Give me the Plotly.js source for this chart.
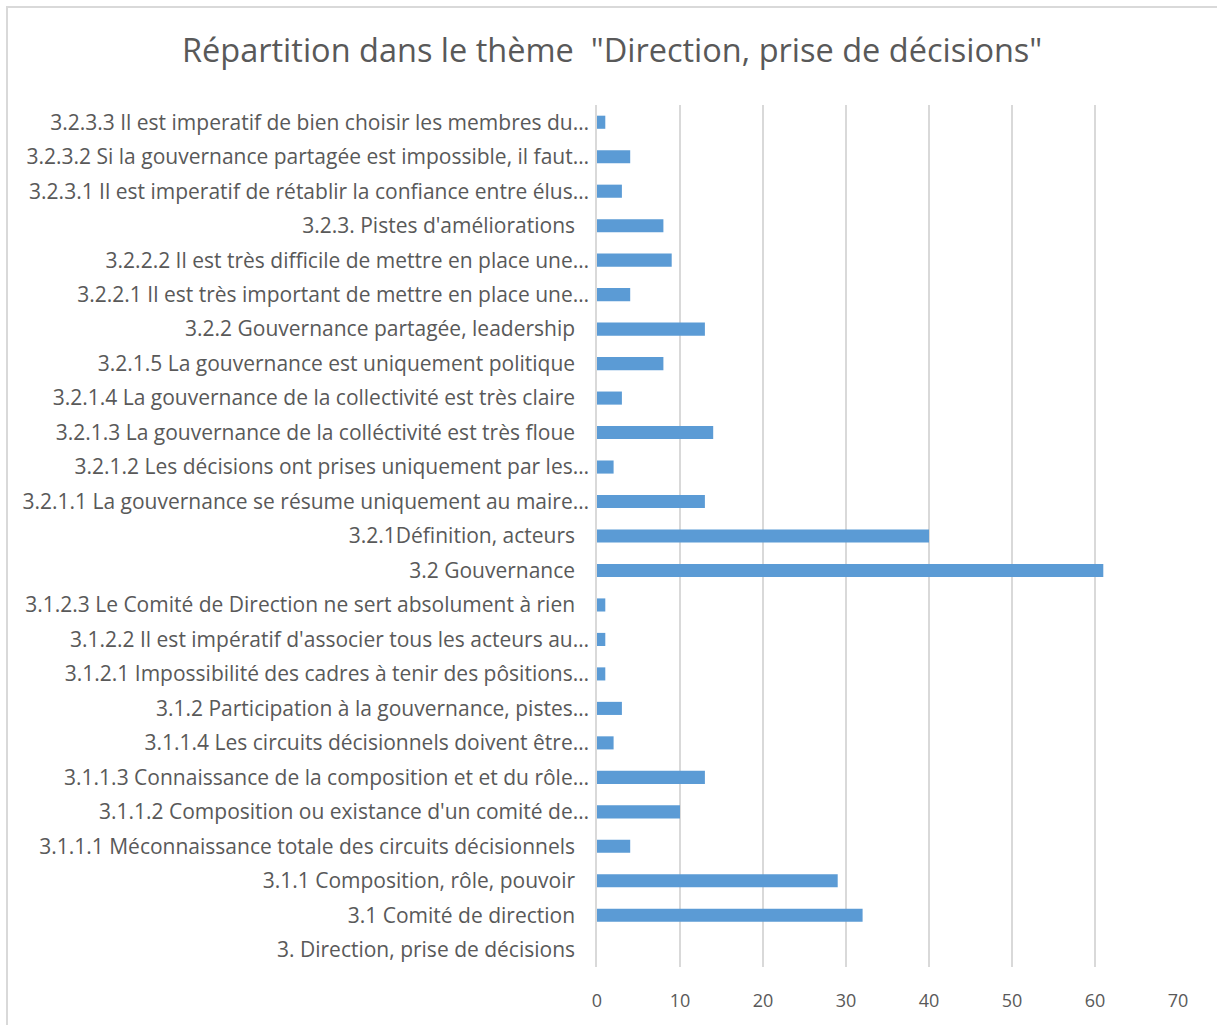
<!DOCTYPE html>
<html>
<head>
<meta charset="utf-8">
<script src="https://cdn.plot.ly/plotly-3.0.1.min.js"></script>
<style>
  html, body { margin: 0; padding: 0; overflow: hidden; background: #fff; }
  #frame { position: absolute; left: 6px; top: 6px; width: 1300px; height: 1100px; border: 2px solid #d9d9d9; box-sizing: border-box; }
  #chart { position: absolute; left: 0; top: 0; width: 1217px; height: 1025px; }
</style>
</head>
<body>
<div id="frame"></div>
<div id="chart"></div>
<script>
// Categories listed bottom to top
const categories = [
  "3. Direction, prise de décisions",
  "3.1 Comité de direction",
  "3.1.1 Composition, rôle, pouvoir",
  "3.1.1.1 Méconnaissance totale des circuits décisionnels",
  "3.1.1.2 Composition ou existance d'un comité de…",
  "3.1.1.3 Connaissance de la composition et et du rôle…",
  "3.1.1.4 Les circuits décisionnels doivent être…",
  "3.1.2 Participation à la gouvernance, pistes…",
  "3.1.2.1 Impossibilité des cadres à tenir des pôsitions…",
  "3.1.2.2 Il est impératif d'associer tous les acteurs au…",
  "3.1.2.3 Le Comité de Direction ne sert absolument à rien",
  "3.2 Gouvernance",
  "3.2.1Définition, acteurs",
  "3.2.1.1 La gouvernance se résume uniquement au maire…",
  "3.2.1.2 Les décisions ont prises uniquement par les…",
  "3.2.1.3 La gouvernance de la colléctivité est très floue",
  "3.2.1.4 La gouvernance de la collectivité est très claire",
  "3.2.1.5 La gouvernance est uniquement politique",
  "3.2.2 Gouvernance partagée, leadership",
  "3.2.2.1 Il est très important de mettre en place une…",
  "3.2.2.2 Il est très difficile de mettre en place une…",
  "3.2.3. Pistes d'améliorations",
  "3.2.3.1 Il est imperatif de rétablir la confiance entre élus…",
  "3.2.3.2 Si la gouvernance partagée est impossible, il faut…",
  "3.2.3.3 Il est imperatif de bien choisir les membres du…"
];
const values = [0, 32, 29, 4, 10, 13, 2, 3, 1, 1, 1, 61, 40, 13, 2, 14, 3, 8, 13, 4, 9, 8, 3, 4, 1];
const xTicks = [0, 10, 20, 30, 40, 50, 60, 70];

const tickText = categories.map(c => c.endsWith("…") ? c : c + "\u2002\u2009");

const data = [{
  type: "bar",
  orientation: "h",
  x: values,
  y: categories,
  width: 0.38,
  marker: { color: "#5B9BD5", line: { width: 0 } },
  hoverinfo: "x+y"
}];

const font = "'Open Sans', Lato, sans-serif";
const layout = {
  width: 1217,
  height: 1025,
  paper_bgcolor: "rgba(0,0,0,0)",
  plot_bgcolor: "rgba(0,0,0,0)",
  margin: { l: 597, r: 39, t: 105, b: 58 },
  showlegend: false,
  title: {
    text: 'Répartition dans le thème  "Direction, prise de décisions"',
    font: { family: font, size: 32.5, color: "#595959" },
    x: 0.503, xanchor: "center", y: 0.951, yanchor: "middle"
  },
  xaxis: {
    range: [0, 70],
    tickvals: xTicks,
    showgrid: true,
    gridcolor: "#d9d9d9",
    gridwidth: 1.5,
    zeroline: false,
    showline: false,
    ticks: "",
    ticklabelstandoff: 21,
    tickfont: { family: font, size: 18, color: "#595959" },
    fixedrange: true
  },
  yaxis: {
    type: "category",
    categoryorder: "array",
    categoryarray: categories,
    tickvals: categories,
    ticktext: tickText,
    showgrid: false,
    zeroline: false,
    showline: true,
    linecolor: "#d9d9d9",
    linewidth: 1.5,
    ticks: "",
    ticklabelstandoff: 2,
    tickfont: { family: font, size: 21, color: "#595959" },
    fixedrange: true
  }
};

Plotly.newPlot("chart", data, layout, { displayModeBar: false, responsive: false });
</script>
</body>
</html>
